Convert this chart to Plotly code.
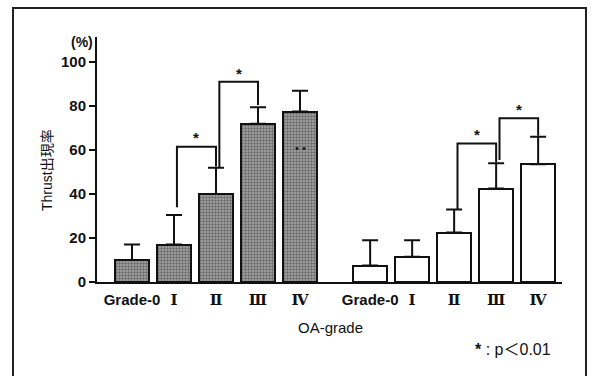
import plotly.graph_objects as go

# ---------------- data ----------------
grades = ["Grade-0", "Ⅰ", "Ⅱ", "Ⅲ", "Ⅳ"]
group1_values = [10, 17, 40, 72, 77.5]
group1_err = [7, 13.5, 12, 7.5, 9.5]
group2_values = [7.5, 11.5, 22.5, 42.5, 53.5]
group2_err = [11.5, 7.5, 10.5, 11.5, 12.5]

# significance brackets: (group, left idx, right idx, top, left leg base, right leg base)
brackets = [
    (1, 1, 2, 61.5, 34, 52.5),
    (1, 2, 3, 91, 52, 80.5),
    (2, 2, 3, 63, 33, 54.5),
    (2, 3, 4, 74.5, 55.5, 66.5),
]
star_offset = 4
y_ticks = [0, 20, 40, 60, 80, 100]

# ---------------- layout constants ----------------
W, H = 596, 376
ML, MR, MT, MB = 97, 34, 37, 94
group_offsets = {1: 0.0, 2: 5.67}
bar_w = 0.81
leg_shift = 0.08

pos1 = [group_offsets[1] + i for i in range(len(grades))]
pos2 = [group_offsets[2] + i for i in range(len(grades))]

FONT = "Liberation Sans, Arial, Noto Sans CJK JP"
ROMAN = "DejaVu Serif"


def tick_label(s):
    if s.startswith("Grade"):
        return s
    return f"<span style='font-family:{ROMAN}'>{s}</span>"


fig = go.Figure()

fig.add_trace(go.Bar(
    x=pos1, y=group1_values, width=bar_w,
    marker=dict(color="#a0a0a0",
                line=dict(color="#111", width=2),
                pattern=dict(shape=".", fgcolor="#2a2a2a", bgcolor="#a8a8a8",
                             size=3, solidity=0.5)),
    error_y=dict(type="data", symmetric=False, array=group1_err,
                 arrayminus=[0] * len(group1_err), color="#111",
                 thickness=2, width=8),
    showlegend=False, hoverinfo="skip",
))
fig.add_trace(go.Bar(
    x=pos2, y=group2_values, width=bar_w,
    marker=dict(color="white", line=dict(color="#111", width=2)),
    error_y=dict(type="data", symmetric=False, array=group2_err,
                 arrayminus=[0] * len(group2_err), color="#111",
                 thickness=2, width=8),
    showlegend=False, hoverinfo="skip",
))

annotations = []
for g, li, ri, top, lb, rb in brackets:
    base = pos1 if g == 1 else pos2
    xl = base[li] + (leg_shift if li in (2, 3) else 0.07)
    xr = base[ri]
    fig.add_trace(go.Scatter(
        x=[xl, xl, xr, xr], y=[lb, top, top, rb], mode="lines",
        line=dict(color="#111", width=2), showlegend=False, hoverinfo="skip",
    ))
    annotations.append(dict(
        x=(xl + xr) / 2, y=top + star_offset, xref="x", yref="y",
        text="*", showarrow=False,
        font=dict(size=15, color="#111", family=FONT, weight="bold"),
        yanchor="middle",
    ))

# dots inside group1 IV bar
annotations.append(dict(x=pos1[4], y=61, xref="x", yref="y", text="• •",
                        showarrow=False, font=dict(size=11, color="#111", family=FONT)))

pw = W - ML - MR
ph = H - MT - MB


def px_x(px):
    return (px - ML) / pw


def px_y(py):
    return (H - MB - py) / ph


annotations += [
    dict(x=px_x(82), y=px_y(42), xref="paper", yref="paper", text="(%)",
         showarrow=False, font=dict(size=14, color="#111", family=FONT, weight="bold"),
         xanchor="center", yanchor="middle"),
    dict(x=px_x(47), y=px_y(170), xref="paper", yref="paper", text="Thrust出現率",
         textangle=-90, showarrow=False,
         font=dict(size=14, color="#111", family=FONT),
         xanchor="center", yanchor="middle"),
    dict(x=px_x(330), y=px_y(327), xref="paper", yref="paper", text="OA-grade",
         showarrow=False, font=dict(size=15, color="#111", family=FONT),
         xanchor="center", yanchor="middle"),
    dict(x=px_x(553), y=px_y(348), xref="paper", yref="paper",
         text="<b>*</b> : p<span style='font-family:Noto Sans CJK JP'>＜</span>0.01",
         showarrow=False, font=dict(size=16, color="#111", family=FONT),
         xanchor="right", yanchor="middle"),
]

fig.add_shape(type="rect", xref="paper", yref="paper",
              x0=px_x(13), x1=px_x(586), y0=px_y(390), y1=px_y(8),
              line=dict(color="#222", width=2), fillcolor="rgba(0,0,0,0)",
              layer="above")

x_range = [(ML - 132) / 42, (W - MR - 132) / 42]
fig.update_layout(
    width=W, height=H, autosize=False,
    margin=dict(l=ML, r=MR, t=MT, b=MB),
    plot_bgcolor="white", paper_bgcolor="white",
    font=dict(family=FONT, color="#111"),
    bargap=0, barmode="overlay",
    annotations=annotations,
    xaxis=dict(range=x_range, tickvals=pos1 + pos2,
               ticktext=[tick_label(s) for s in grades + grades],
               showline=True, linecolor="#111", linewidth=2,
               ticks="", showgrid=False, zeroline=False, automargin=False,
               ticklabelstandoff=3,
               tickfont=dict(size=15, color="#111", family=FONT, weight="bold")),
    yaxis=dict(range=[0, 111.4], tickvals=y_ticks,
               showline=True, linecolor="#111", linewidth=2,
               ticks="outside", ticklen=6, tickwidth=2, tickcolor="#111",
               showgrid=False, zeroline=False, automargin=False,
               tickfont=dict(size=15, color="#111", family=FONT, weight="bold")),
)

fig.write_html("out.html",
               config={"displayModeBar": False},
               post_script="document.body.style.margin='0px';"
                           "document.body.style.overflow='hidden';")
